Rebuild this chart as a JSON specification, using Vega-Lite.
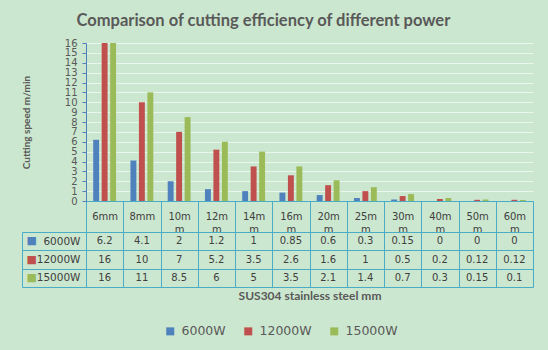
{
  "$schema": "https://vega.github.io/schema/vega-lite/v6.json",
  "background": "#CCE7CF",
  "padding": {"left": 21, "top": 12, "right": 15, "bottom": 12},
  "bounds": "flush",
  "title": {
    "text": "Comparison of cutting efficiency of different power",
    "font": "Lato",
    "fontSize": 16.5,
    "fontWeight": "bold",
    "color": "#595959",
    "anchor": "middle",
    "dx": -14,
    "offset": 9
  },
  "data": {
    "values": [
      {"thickness": "6mm", "power": "6000W", "speed": 6.2},
      {"thickness": "8mm", "power": "6000W", "speed": 4.1},
      {"thickness": "10mm", "power": "6000W", "speed": 2},
      {"thickness": "12mm", "power": "6000W", "speed": 1.2},
      {"thickness": "14mm", "power": "6000W", "speed": 1},
      {"thickness": "16mm", "power": "6000W", "speed": 0.85},
      {"thickness": "20mm", "power": "6000W", "speed": 0.6},
      {"thickness": "25mm", "power": "6000W", "speed": 0.3},
      {"thickness": "30mm", "power": "6000W", "speed": 0.15},
      {"thickness": "40mm", "power": "6000W", "speed": 0},
      {"thickness": "50mm", "power": "6000W", "speed": 0},
      {"thickness": "60mm", "power": "6000W", "speed": 0},
      {"thickness": "6mm", "power": "12000W", "speed": 16},
      {"thickness": "8mm", "power": "12000W", "speed": 10},
      {"thickness": "10mm", "power": "12000W", "speed": 7},
      {"thickness": "12mm", "power": "12000W", "speed": 5.2},
      {"thickness": "14mm", "power": "12000W", "speed": 3.5},
      {"thickness": "16mm", "power": "12000W", "speed": 2.6},
      {"thickness": "20mm", "power": "12000W", "speed": 1.6},
      {"thickness": "25mm", "power": "12000W", "speed": 1},
      {"thickness": "30mm", "power": "12000W", "speed": 0.5},
      {"thickness": "40mm", "power": "12000W", "speed": 0.2},
      {"thickness": "50mm", "power": "12000W", "speed": 0.12},
      {"thickness": "60mm", "power": "12000W", "speed": 0.12},
      {"thickness": "6mm", "power": "15000W", "speed": 16},
      {"thickness": "8mm", "power": "15000W", "speed": 11},
      {"thickness": "10mm", "power": "15000W", "speed": 8.5},
      {"thickness": "12mm", "power": "15000W", "speed": 6},
      {"thickness": "14mm", "power": "15000W", "speed": 5},
      {"thickness": "16mm", "power": "15000W", "speed": 3.5},
      {"thickness": "20mm", "power": "15000W", "speed": 2.1},
      {"thickness": "25mm", "power": "15000W", "speed": 1.4},
      {"thickness": "30mm", "power": "15000W", "speed": 0.7},
      {"thickness": "40mm", "power": "15000W", "speed": 0.3},
      {"thickness": "50mm", "power": "15000W", "speed": 0.15},
      {"thickness": "60mm", "power": "15000W", "speed": 0.1}
    ]
  },
  "spacing": 31,
  "vconcat": [
    {
      "width": 447,
      "height": 158,
      "mark": {"type": "bar"},
      "encoding": {
        "x": {
          "field": "thickness",
          "type": "nominal",
          "sort": null,
          "scale": {"paddingInner": 0, "paddingOuter": 0},
          "axis": {
            "title": null,
            "labelAngle": 0,
            "labelExpr": "length(datum.label) > 3 ? [slice(datum.label, 0, 3), slice(datum.label, 3)] : datum.label",
            "tickBand": "extent",
            "tickSize": 31,
            "tickColor": "#4BACC6",
            "domainColor": "#4BACC6",
            "labelBaseline": "middle",
            "labelPadding": -16,
            "labelLineHeight": 13,
            "labelFont": "DejaVu Sans",
            "labelFontSize": 10,
            "labelColor": "#404040"
          }
        },
        "xOffset": {
          "field": "power",
          "type": "nominal",
          "sort": ["6000W", "12000W", "15000W"],
          "scale": {"paddingInner": 0.3, "paddingOuter": 0.85}
        },
        "y": {
          "field": "speed",
          "type": "quantitative",
          "scale": {"domain": [0, 16], "nice": false},
          "axis": {
            "title": "Cutting speed m/min",
            "values": [0, 1, 2, 3, 4, 5, 6, 7, 8, 9, 10, 11, 12, 13, 14, 15, 16],
            "labelOverlap": false,
            "grid": true,
            "gridColor": "#EAF5EC",
            "gridWidth": 1,
            "domainColor": "#4F81BD",
            "tickColor": "#4F81BD",
            "tickSize": 4,
            "labelFont": "DejaVu Sans",
            "labelFontSize": 10,
            "labelColor": "#595959",
            "labelPadding": 5,
            "titleFont": "Lato",
            "titleFontSize": 10,
            "titleFontWeight": "bold",
            "titleColor": "#595959",
            "titlePadding": 33
          }
        },
        "color": {
          "field": "power",
          "type": "nominal",
          "sort": ["6000W", "12000W", "15000W"],
          "scale": {"range": ["#4F81BD", "#C0504D", "#9BBB59"]},
          "legend": {
            "title": null,
            "orient": "none",
            "direction": "horizontal",
            "legendX": 78,
            "legendY": 282,
            "symbolType": "square",
            "symbolSize": 64,
            "symbolStrokeWidth": 0,
            "labelFont": "DejaVu Sans",
            "labelFontSize": 12.5,
            "labelColor": "#595959",
            "columnPadding": 16,
            "labelOffset": 5
          }
        }
      }
    },
    {
      "width": 447,
      "height": 55,
      "layer": [
        {
          "mark": {"type": "text", "font": "DejaVu Sans", "fontSize": 10, "color": "#404040"},
          "encoding": {
            "x": {
              "field": "thickness",
              "type": "nominal",
              "sort": null,
              "scale": {"paddingInner": 0, "paddingOuter": 0},
              "axis": {
                "orient": "bottom",
                "title": "SUS304 stainless steel mm",
                "labels": false,
                "ticks": false,
                "domain": false,
                "grid": true,
                "tickBand": "extent",
                "gridColor": "#4BACC6",
                "titleFont": "Lato",
                "titleFontSize": 12,
                "titleFontWeight": "bold",
                "titleColor": "#595959",
                "titlePadding": 3
              }
            },
            "y": {
              "field": "power",
              "type": "nominal",
              "sort": ["6000W", "12000W", "15000W"],
              "scale": {"paddingInner": 0, "paddingOuter": 0},
              "axis": {
                "title": null,
                "domain": false,
                "ticks": true,
                "tickSize": 64,
                "tickBand": "extent",
                "tickColor": "#4BACC6",
                "grid": true,
                "gridColor": "#4BACC6",
                "labelPadding": -58,
                "labelAlign": "right",
                "labelBaseline": "middle",
                "labelFont": "DejaVu Sans",
                "labelFontSize": 10.5,
                "labelColor": "#404040"
              }
            },
            "text": {"field": "speed", "type": "quantitative", "format": "~g"}
          }
        },
        {
          "mark": {"type": "rect", "opacity": 0},
          "encoding": {
            "y": {
              "field": "power",
              "type": "nominal",
              "sort": ["6000W", "12000W", "15000W"],
              "axis": {
                "title": null,
                "orient": "left",
                "offset": 64,
                "domain": true,
                "domainColor": "#4BACC6",
                "ticks": false,
                "grid": false,
                "labelExpr": "'■'",
                "labelAlign": "left",
                "labelBaseline": "middle",
                "labelPadding": -4,
                "labelFont": "DejaVu Sans",
                "labelFontSize": 11,
                "labelColor": {
                  "condition": [
                    {"test": "datum.value === '6000W'", "value": "#4F81BD"},
                    {"test": "datum.value === '12000W'", "value": "#C0504D"}
                  ],
                  "value": "#9BBB59"
                }
              }
            }
          }
        }
      ],
      "resolve": {"axis": {"y": "independent"}}
    }
  ],
  "config": {
    "view": {"stroke": null},
    "font": "DejaVu Sans"
  }
}
